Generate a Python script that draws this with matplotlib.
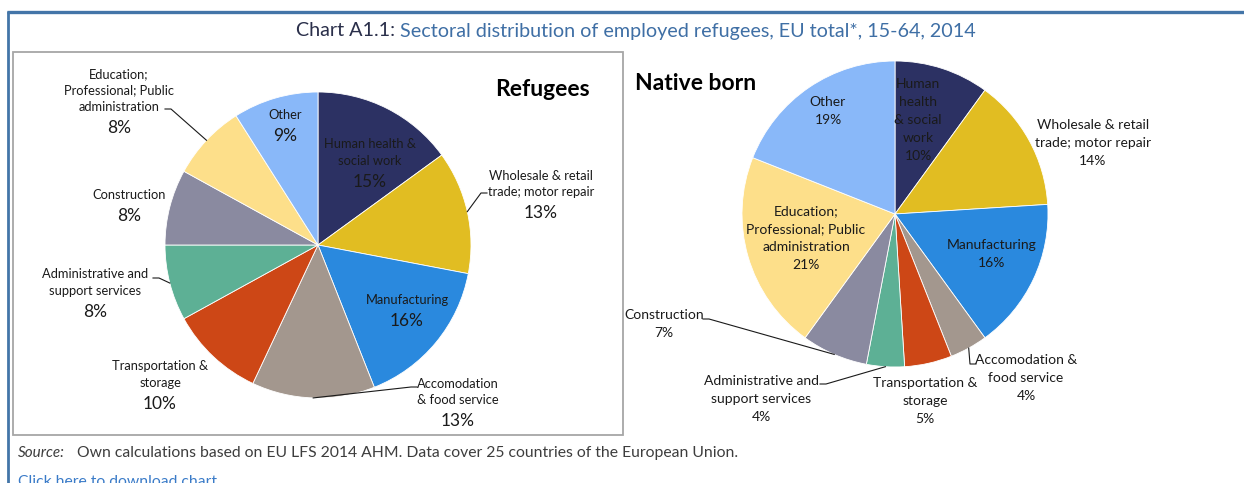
import numpy as np
import matplotlib
matplotlib.use("Agg")
import matplotlib.pyplot as plt
from matplotlib.patches import Rectangle

plt.rcParams['font.family'] = ['Lato', 'DejaVu Sans']

# ---- data ----
sectors = ["Human health &\nsocial work", "Wholesale & retail\ntrade; motor repair",
           "Manufacturing", "Accomodation\n& food service", "Transportation &\nstorage",
           "Administrative and\nsupport services", "Construction",
           "Education;\nProfessional; Public\nadministration", "Other"]
sectors_nb = ["Human\nhealth\n& social\nwork", "Wholesale & retail\ntrade; motor repair",
              "Manufacturing", "Accomodation &\nfood service", "Transportation &\nstorage",
              "Administrative and\nsupport services", "Construction",
              "Education;\nProfessional; Public\nadministration", "Other"]
refugees = [15, 13, 16, 13, 10, 8, 8, 8, 9]
native_born = [10, 14, 16, 4, 5, 4, 7, 21, 19]
colors = ["#2C3163", "#E1BD22", "#2A89DE", "#A3978E", "#CD4716",
          "#5DB095", "#8A8AA0", "#FDDF8A", "#89B8F9"]

# ---- layout (pixels) ----
W, H = 1244, 483
# pie centres / radius
ref_c, ref_r = (318, 245), 153
nb_c, nb_r = (895, 214), 153
# label positions: (x, y of percentage line)
ref_lab = [(370, 182), (541, 213), (407, 321), (458, 421), (160, 404),
           (95, 312), (129, 216), (119, 128), (285, 136)]
nb_lab = [(918, 156), (1093, 161), (992, 263), (1026, 396), (925, 419),
          (761, 417), (664, 333), (806, 265), (828, 120)]
# leader lines: index -> text side anchor (x, y, direction of text)
ref_lead = {1: (487, 193, 1), 3: (417, 387, 1), 5: (153, 278, -1), 7: (165, 109, -1)}
nb_lead = {3: (976, 364, 1), 5: (820, 384, -1), 6: (703, 319, -1)}

fig = plt.figure(figsize=(W / 100, H / 100), dpi=100)

bg = fig.add_axes([0, 0, 1, 1], zorder=0)
bg.set_xlim(0, W)
bg.set_ylim(H, 0)
bg.axis('off')
bg.plot([7, W + 5], [12, 12], color="#4375A8", lw=2.4, solid_capstyle='butt')
bg.plot([8, 8], [11, H + 5], color="#4375A8", lw=2.0, solid_capstyle='butt')
bg.add_patch(Rectangle((13, 52), 610, 383, fill=False, ec="#A6A6A6", lw=1.3))


def pie_axes(c, r):
    ax = fig.add_axes([(c[0] - r) / W, (H - c[1] - r) / H, 2 * r / W, 2 * r / H], zorder=1)
    return ax


top = fig.add_axes([0, 0, 1, 1], zorder=5)
top.set_xlim(0, W)
top.set_ylim(H, 0)
top.axis('off')
top.patch.set_alpha(0)


def draw_pie(values, names, c, r, labs, leads, name_fs, pct_fs, pitch, gap):
    ax = pie_axes(c, r)
    wedges, _ = ax.pie(values, colors=colors, startangle=90, counterclock=False,
                       radius=1, wedgeprops=dict(edgecolor='white', linewidth=0.6))
    ax.set_xlim(-1, 1)
    ax.set_ylim(-1, 1)
    ax.axis('off')
    for i, (w, v, name) in enumerate(zip(wedges, values, names)):
        x, y = labs[i]
        lines = name.split("\n")
        for k, ln in enumerate(lines):
            yy = y - gap - (len(lines) - 1 - k) * pitch
            top.text(x, yy, ln, ha='center', va='center', fontsize=name_fs, color="#1a1a1a")
        top.text(x, y, f"{v}%", ha='center', va='center', fontsize=pct_fs, color="#1a1a1a")
        if i in leads:
            tx, ty, d = leads[i]
            mid = np.deg2rad((w.theta1 + w.theta2) / 2)
            ex, ey = c[0] + r * np.cos(mid), c[1] - r * np.sin(mid)
            top.plot([ex, tx - 6 * d, tx], [ey, ty, ty], color="#1a1a1a", lw=0.8)


draw_pie(refugees, sectors, ref_c, ref_r, ref_lab, ref_lead, 9.3, 12.5, 16.5, 21)
draw_pie(native_born, sectors_nb, nb_c, nb_r, nb_lab, nb_lead, 10, 10, 18, 18)

top.text(542, 89, "Refugees", ha='center', va='center', fontsize=16.5, fontweight='bold', color="black")
top.text(635, 83, "Native born", ha='left', va='center', fontsize=16.5, fontweight='bold', color="black")

# title in two colours
r = fig.canvas.get_renderer()
t1 = top.text(0, 31, "Chart A1.1: ", ha='left', va='center', fontsize=14.2, color="#2A2F4A")
t2 = top.text(0, 31, "Sectoral distribution of employed refugees, EU total*, 15-64, 2014",
              ha='left', va='center', fontsize=14.2, color="#3F6FA5")
w1 = t1.get_window_extent(r).width
w2 = t2.get_window_extent(r).width
x0 = 636 - (w1 + w2) / 2
t1.set_x(x0)
t2.set_x(x0 + w1)

top.text(18, 453, "Source:", ha='left', va='center', fontsize=11, style='italic', color="#3D3D3D")
top.text(77, 453, "Own calculations based on EU LFS 2014 AHM. Data cover 25 countries of the European Union.",
         ha='left', va='center', fontsize=11.3, color="#3D3D3D")
top.text(18, 482, "Click here to download chart", ha='left', va='center', fontsize=11.3, color="#3A7BC8")

fig.savefig("out.png", dpi=100)
